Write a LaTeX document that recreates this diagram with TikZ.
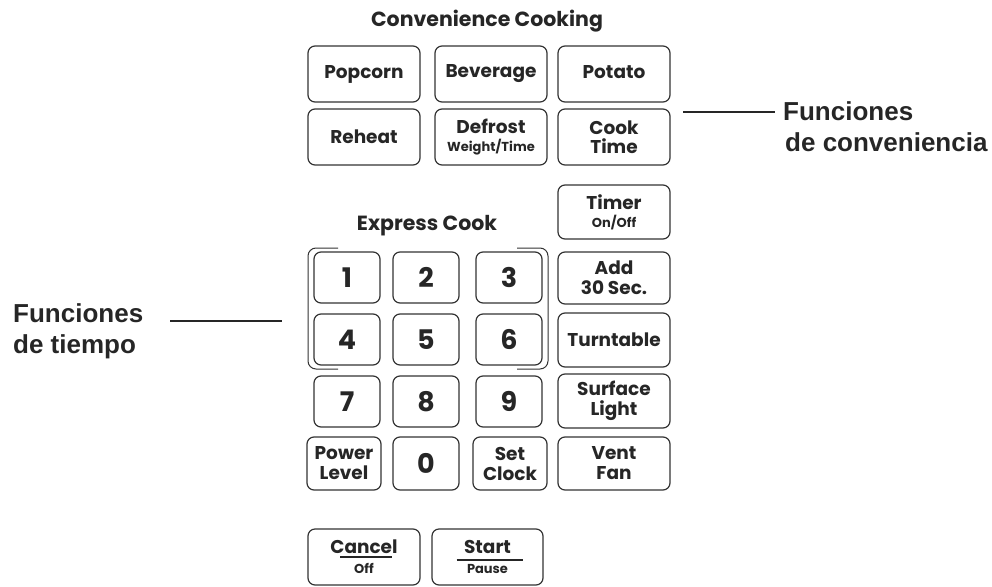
\documentclass[tikz,border=0pt]{standalone}
\usepackage{fontspec}
\setmainfont{Poppins}
\newfontfamily\btnfont{Poppins}
\newfontfamily\lblfont{Liberation Sans}
\definecolor{ink}{HTML}{262626}
\definecolor{frame}{HTML}{333333}
\newcommand\bigtxt{\fontsize{18.5}{19}\selectfont}
\newcommand\headtxt{\fontsize{20.5}{24}\selectfont}
\newcommand\smalltxt{\fontsize{13}{15}\selectfont}
\newcommand\digittxt{\fontsize{27}{30}\selectfont}
\tikzset{
  btn/.style={draw=frame, line width=1.2pt, rounded corners=7pt, inner sep=0pt},
  btntext/.style={text=ink, font=\btnfont\bfseries\bigtxt, align=center, inner sep=0pt},
  digittext/.style={text=ink, font=\btnfont\bfseries\digittxt, inner sep=0pt},
  heading/.style={text=ink, font=\btnfont\bfseries\headtxt, anchor=base},
  sidelabel/.style={text=ink, font=\lblfont\bfseries\fontsize{26}{31}\selectfont, align=left, anchor=west, inner sep=0pt},
  leader/.style={draw=ink, line width=1.6pt},
  bracketline/.style={draw=frame, line width=1pt, rounded corners=8pt},
  underl/.style={draw=ink, line width=1.2pt}
}
\newcommand\keyb[5]{%
  \node[btn,minimum width={(#4)-(#2)}, minimum height={(#5)-(#3)}]
    (#1) at ({((#2)+(#4))/2},{((#3)+(#5))/2}) {};}
\begin{document}
\begin{tikzpicture}[x=1pt,y=-1pt]
\useasboundingbox (0,0) rectangle (992,586);

% headings
\node[heading] (convhead) at (487,27) {Convenience Cooking};
\node[heading] (exphead) at (427,230) {Express Cook};

% convenience buttons
\keyb{popcorn}{308}{46}{420}{102}
\keyb{beverage}{435}{46}{547}{102}
\keyb{potato}{558}{46}{670}{102}
\keyb{reheat}{308}{109}{420}{165}
\keyb{defrost}{435}{109}{547}{165}
\keyb{cooktime}{558}{109}{670}{165}
\node[btntext] (t-popcorn) at (popcorn) {Popcorn};
\node[btntext] (t-beverage) at (beverage) {Beverage};
\node[btntext] (t-potato) at ([yshift=2pt]potato.center) {Potato};
\node[btntext] (t-reheat) at (reheat) {Reheat};
\node[btntext] (t-defrost) at (defrost) {Defrost\\[-1pt]{\smalltxt Weight/Time}};
\node[btntext] (t-cooktime) at (cooktime) {Cook\\Time};

% right column
\keyb{timer}{558}{185}{670}{239}
\keyb{add30}{558}{252}{670}{304}
\keyb{turntable}{558}{313}{670}{367}
\keyb{surface}{558}{374}{670}{428}
\keyb{ventfan}{558}{437}{670}{490}
\node[btntext] (t-timer) at (timer) {Timer\\[-1pt]{\smalltxt On/Off}};
\node[btntext] (t-add30) at (add30) {Add\\[1pt]30 Sec.};
\node[btntext] (t-turntable) at (turntable) {Turntable};
\node[btntext] (t-surface) at (surface) {Surface\\[1pt]Light};
\node[btntext] (t-ventfan) at (ventfan) {Vent\\[1pt]Fan};

% keypad
\keyb{k1}{314}{252}{380}{303}
\keyb{k2}{393}{252}{459}{303}
\keyb{k3}{476}{252}{542}{303}
\keyb{k4}{314}{314}{380}{365}
\keyb{k5}{393}{314}{459}{365}
\keyb{k6}{476}{314}{542}{365}
\keyb{k7}{314}{376}{380}{427}
\keyb{k8}{393}{376}{459}{427}
\keyb{k9}{476}{376}{542}{427}
\keyb{power}{307}{437}{381}{490}
\keyb{k0}{393}{437}{459}{490}
\keyb{setclock}{473}{437}{547}{490}
\foreach \k/\d in {k1/1,k2/2,k3/3,k4/4,k5/5,k6/6,k7/7,k8/8,k9/9,k0/0}
  \node[digittext] (t-\k) at (\k) {\d};
\node[btntext] (t-power) at (power) {Power\\[1pt]Level};
\node[btntext] (t-setclock) at (setclock) {Set\\[1pt]Clock};

% express cook bracket
\draw[bracketline] (338,248) -- (308,248) -- (308,369) -- (338,369);
\draw[bracketline] (517,248) -- (548,248) -- (548,369) -- (517,369);

% cancel / start
\keyb{cancel}{308}{529}{420}{585}
\keyb{start}{432}{529}{543}{585}
\node[btntext] (t-cancel) at (cancel) {Cancel\\[1pt]{\smalltxt Off}};
\node[btntext] (t-start) at (start) {Start\\[1pt]{\smalltxt Pause}};
\draw[underl] ([xshift=-24pt,yshift=0pt]cancel.center) -- ([xshift=28pt,yshift=0pt]cancel.center);
\draw[underl] ([xshift=-31pt,yshift=-3pt]start.center) -- ([xshift=35pt,yshift=-3pt]start.center);

% side labels
\node[sidelabel] (tiempo) at (13,331) {Funciones\\de tiempo};
\coordinate (lt1) at (170,321);
\coordinate (lt2) at (282,321);
\draw[leader] (lt1) -- (lt2);

\node[sidelabel] (conv) at (783,127) {Funciones\\\hspace*{2pt}de conveniencia};
\coordinate (lc1) at (683,112);
\coordinate (lc2) at (775,112);
\draw[leader] (lc1) -- (lc2);
\end{tikzpicture}
\end{document}
